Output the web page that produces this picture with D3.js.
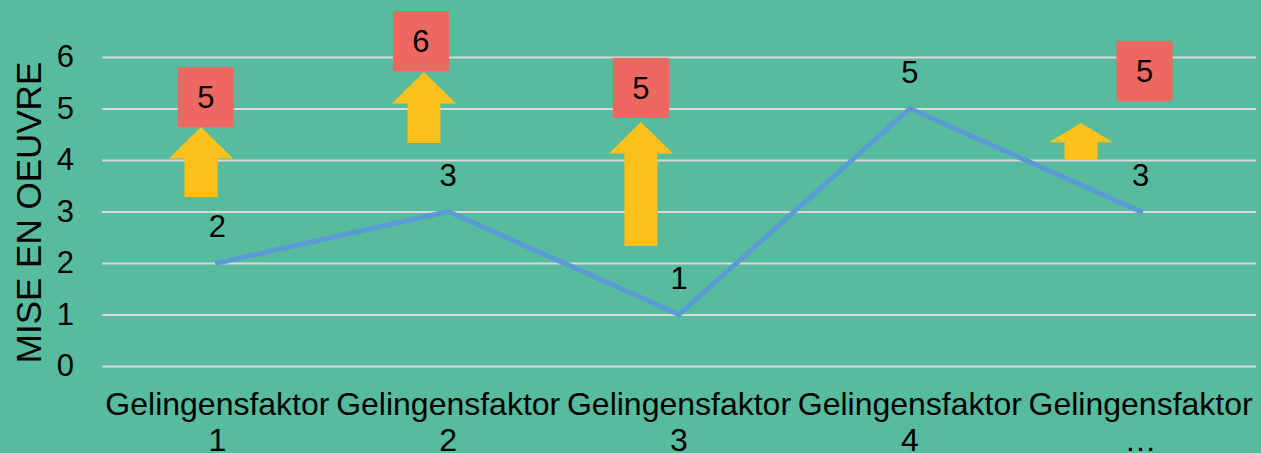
<!DOCTYPE html>
<html><head><meta charset="utf-8">
<script src="https://cdn.jsdelivr.net/npm/d3@7"></script>
<style>html,body{margin:0;padding:0;background:#57BB9E;overflow:hidden}</style>
</head><body>
<svg id="c" width="1261" height="453"></svg>
<script>
// ---- data ----
const categories = ["Gelingensfaktor 1","Gelingensfaktor 2","Gelingensfaktor 3","Gelingensfaktor 4","Gelingensfaktor …"];
const values = [2, 3, 1, 5, 3];
const targets = [5, 6, 5, null, 5];
const yTicks = [0, 1, 2, 3, 4, 5, 6];
const yTitle = "MISE EN OEUVRE";
// annotation placement (data units: band-fraction offset from category centre, value)
const boxShift = [-0.05, -0.118, -0.165, null, 0.017];
const boxLevel = [5.22, 6.31, 5.40, null, 5.73];
const arrowShift = [-0.071, -0.105, -0.165, null, -0.258];
const arrowTip = [4.64, 5.71, 4.74, null, 4.72];
const arrowBase = [3.28, 4.33, 2.33, null, 4.0];

// ---- layout ----
const svg = d3.select("#c");
const mLeft = 102, mRight = 1256, mTop = 57, mBottom = 366;
const x = d3.scaleBand().domain(categories).range([mLeft, mRight]).padding(0);
const y = d3.scaleLinear().domain([0, 6]).range([mBottom, mTop]);
const cx = (i, s) => x(categories[i]) + x.bandwidth() / 2 + (s || 0) * x.bandwidth();
const font = "Liberation Sans, Arial, Helvetica, sans-serif";

// gridlines
const yAxis = d3.axisLeft(y).tickValues(yTicks).tickSize(-(mRight - mLeft)).tickPadding(28).tickFormat(d3.format("d"));
const gy = svg.append("g").attr("transform", `translate(${mLeft},0)`).call(yAxis);
gy.select(".domain").remove();
gy.selectAll(".tick line").attr("stroke", "#D9D9D9").attr("stroke-width", 2.2);
gy.selectAll(".tick text").attr("font-family", font).attr("font-size", 31).attr("fill", "#000").attr("dy", "0.31em");

// x axis labels (two lines)
const gx = svg.append("g").attr("transform", `translate(0,${mBottom})`).call(d3.axisBottom(x).tickSize(0).tickPadding(0));
gx.select(".domain").remove();
gx.selectAll(".tick text").each(function(d) {
  const t = d3.select(this).text(null).attr("font-family", font).attr("font-size", 32).attr("fill", "#000").attr("y", 0).attr("dy", null);
  const parts = d.split(" ");
  t.append("tspan").attr("x", 0).attr("y", 49).text(parts[0]);
  t.append("tspan").attr("x", 0).attr("y", 85).text(parts.slice(1).join(" "));
});

// y title
svg.append("text").attr("transform", `translate(41,${(mTop + mBottom) / 2 + 1}) rotate(-90)`)
  .attr("text-anchor", "middle").attr("font-family", font).attr("font-size", 35).attr("fill", "#000").text(yTitle);

// line
const line = d3.line().x((d, i) => cx(i)).y(d => y(d));
svg.append("path").datum(values).attr("d", line).attr("fill", "none")
  .attr("stroke", "#5B9BD5").attr("stroke-width", 5).attr("stroke-linejoin", "round").attr("stroke-linecap", "round");

// data labels
svg.selectAll("text.dl").data(values).join("text").attr("class", "dl")
  .attr("x", (d, i) => cx(i)).attr("y", d => y(d) - 26).attr("text-anchor", "middle")
  .attr("font-family", font).attr("font-size", 31).attr("fill", "#000").text(d => d);

// arrows
const idx = d3.range(values.length).filter(i => arrowTip[i] != null);
svg.selectAll("path.arrow").data(idx).join("path").attr("class", "arrow")
  .attr("fill", "#FCC21B")
  .attr("d", i => {
    const c = cx(i, arrowShift[i]), tip = y(arrowTip[i]), base = y(arrowBase[i]);
    const hw = 32, sw = 16.5;
    const hh = Math.min(31.5, (base - tip) * 0.52);
    return `M${c},${tip} L${c + hw},${tip + hh} L${c + sw},${tip + hh} L${c + sw},${base} L${c - sw},${base} L${c - sw},${tip + hh} L${c - hw},${tip + hh} Z`;
  });

// target boxes
const bidx = d3.range(values.length).filter(i => targets[i] != null);
const bw = 56, bh = 60;
svg.selectAll("rect.box").data(bidx).join("rect").attr("class", "box")
  .attr("x", i => cx(i, boxShift[i]) - bw / 2).attr("y", i => y(boxLevel[i]) - bh / 2)
  .attr("width", bw).attr("height", bh).attr("fill", "#EE6862");
svg.selectAll("text.bt").data(bidx).join("text").attr("class", "bt")
  .attr("x", i => cx(i, boxShift[i])).attr("y", i => y(boxLevel[i]) + 11)
  .attr("text-anchor", "middle").attr("font-family", font).attr("font-size", 31).attr("fill", "#000")
  .text(i => targets[i]);
</script>
</body></html>
